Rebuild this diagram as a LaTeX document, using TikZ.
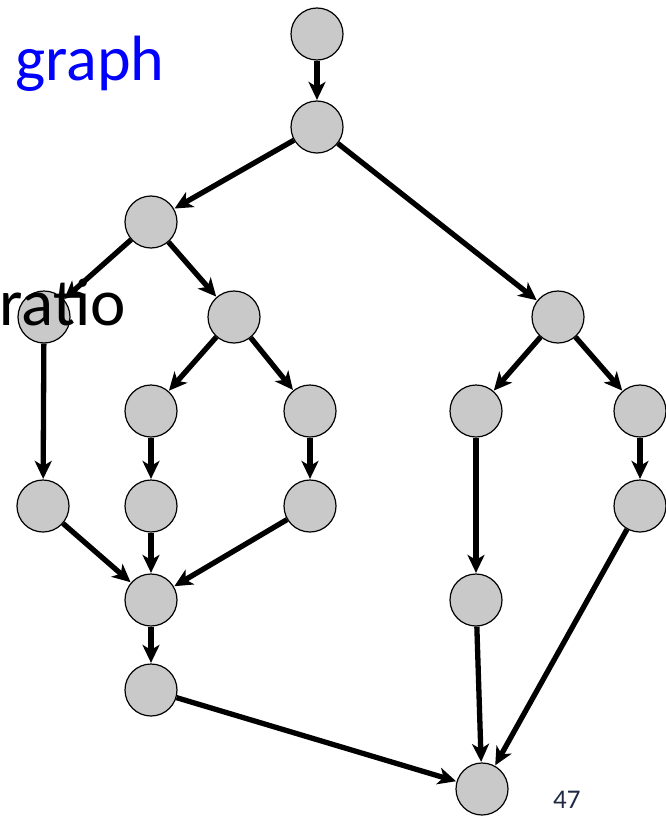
\documentclass[tikz,border=0pt]{standalone}
\usepackage{fontspec}
\setmainfont{Carlito}
\usetikzlibrary{arrows.meta}
\definecolor{nodegray}{HTML}{C9C9C9}
\definecolor{pagenum}{HTML}{1F2A44}

\begin{document}
\begin{tikzpicture}[x=1pt,y=-1pt,vertex/.style={draw, circle, fill=nodegray, line width=1.2pt, minimum size=52pt, inner sep=0pt},edge/.style={line width=5.3pt, -{Stealth[length=18pt, width=17pt, inset=5pt]}, shorten >=0.5pt}]
\useasboundingbox (0,0) rectangle (666,816);
% vertices
\node[vertex] (a) at (317,34) {};
\node[vertex] (b) at (317,127) {};
\node[vertex] (c) at (151,222) {};
\node[vertex] (d) at (44,317) {};
\node[vertex] (e) at (234,317) {};
\node[vertex] (f) at (558,317) {};
\node[vertex] (g) at (151,411) {};
\node[vertex] (h) at (310,411) {};
\node[vertex] (i) at (476,411) {};
\node[vertex] (j) at (640,411) {};
\node[vertex] (k) at (43,506) {};
\node[vertex] (l) at (151,506) {};
\node[vertex] (m) at (310,506) {};
\node[vertex] (n) at (640,506) {};
\node[vertex] (o) at (151,600) {};
\node[vertex] (p) at (476,600) {};
\node[vertex] (q) at (151,690) {};
\node[vertex] (r) at (482,789) {};
% edges
\draw[edge] (a) -- (b);
\draw[edge] (b) -- (c);
\draw[edge] (b) -- (f);
\draw[edge] (c) -- (d);
\draw[edge] (c) -- (e);
\draw[edge] (e) -- (g);
\draw[edge] (e) -- (h);
\draw[edge] (f) -- (i);
\draw[edge] (f) -- (j);
\draw[edge] (d) -- (k);
\draw[edge] (g) -- (l);
\draw[edge] (h) -- (m);
\draw[edge] (j) -- (n);
\draw[edge] (k) -- (o);
\draw[edge] (l) -- (o);
\draw[edge] (m) -- (o);
\draw[edge] (i) -- (p);
\draw[edge] (o) -- (q);
\draw[edge] (q) -- (r);
\draw[edge] (p) -- (r);
\draw[edge] (n) -- (r);
% labels
\node[anchor=base west, text=blue, font=\fontsize{64}{64}\selectfont, inner sep=0pt] (title) at (15,80) {graph};
\node[anchor=base east, font=\fontsize{67}{67}\selectfont, inner sep=0pt] (word) at (126,325) {ratio};
\node[anchor=base west, text=pagenum, font=\fontsize{27}{27}\selectfont, inner sep=0pt] (page) at (553,808) {47};
\end{tikzpicture}
\end{document}
